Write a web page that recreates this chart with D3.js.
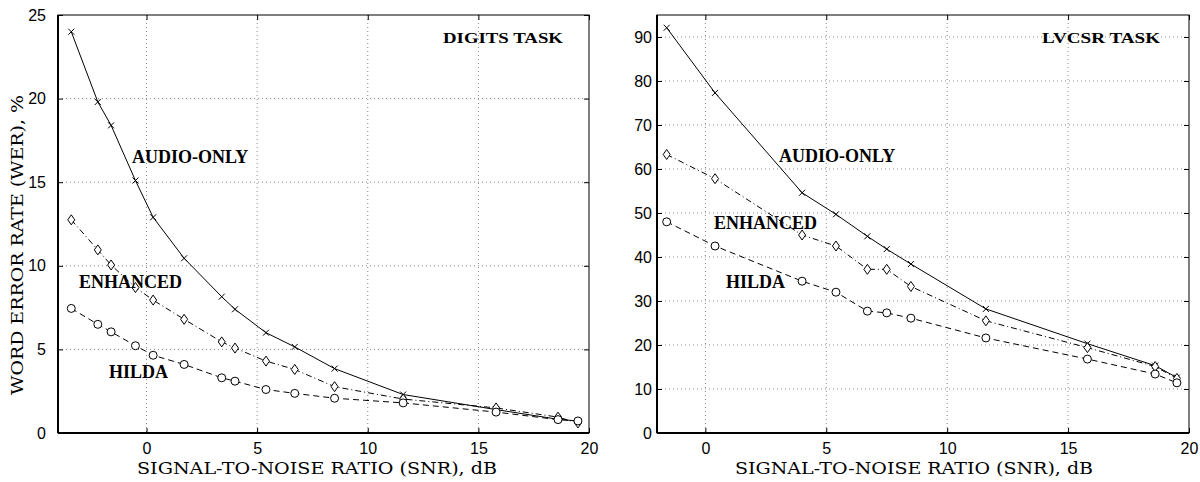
<!DOCTYPE html>
<html><head><meta charset="utf-8">
<script src="https://cdn.jsdelivr.net/npm/d3@7/dist/d3.min.js"></script>
<style>body{margin:0;background:#fff}svg{display:block}</style>
</head><body><svg id="c" width="1200" height="482"></svg>
<script>
// ---- data ----
const digitsSNR = [-3.4,-2.2,-1.6,-0.5,0.3,1.7,3.4,4.0,5.4,6.7,8.5,11.6,15.8,18.6,19.5];
const digitsAudio = [24.0,19.8,18.4,15.1,12.9,10.45,8.15,7.4,6.0,5.15,3.85,2.3,1.4,0.82,0.72];
const digitsEnhanced = [12.75,10.95,10.05,8.7,7.95,6.8,5.45,5.08,4.3,3.8,2.77,2.03,1.5,0.95,0.6];
const digitsHilda = [7.45,6.5,6.05,5.22,4.65,4.1,3.3,3.1,2.6,2.37,2.08,1.8,1.25,0.8,0.72];
const lvcsrSNR = [-1.6,0.4,4.0,5.4,6.7,7.5,8.5,11.6,15.8,18.6,19.5];
const lvcsrAudio = [92.1,77.3,54.6,49.7,44.7,41.8,38.4,28.2,20.3,15.3,12.6];
const lvcsrEnhanced = [63.3,57.8,45.0,42.5,37.2,37.2,33.3,25.5,19.4,15.1,12.4];
const lvcsrHilda = [48.0,42.5,34.5,32.0,27.7,27.3,26.1,21.6,16.8,13.4,11.4];
const digitsYTicks = [0,5,10,15,20,25];
const lvcsrYTicks = [0,10,20,30,40,50,60,70,80,90];
const xTicks = [0,5,10,15,20];
const seriesNames = ["AUDIO-ONLY","ENHANCED","HILDA"];
const xTitle = "SIGNAL-TO-NOISE RATIO (SNR), dB";
const yTitle = "WORD ERROR RATE (WER), %";

const svg = d3.select("#c");
const serif = "DejaVu Serif, Liberation Serif, serif";
const boldSerif = "Liberation Serif, Times New Roman, serif";

function panel(cfg){
  const g = svg.append("g");
  const x = d3.scaleLinear().domain(cfg.xdom).range([cfg.left, cfg.right]);
  const y = d3.scaleLinear().domain(cfg.ydom).range([cfg.bottom, cfg.top]);
  // grid
  g.selectAll(".gx").data(xTicks.filter(t=>t>cfg.xdom[0]&&t<cfg.xdom[1])).enter().append("line")
    .attr("x1",d=>x(d)).attr("x2",d=>x(d)).attr("y1",cfg.top).attr("y2",cfg.bottom)
    .attr("stroke","#888").attr("stroke-width",1).attr("stroke-dasharray","1,3");
  g.selectAll(".gy").data(cfg.yticks.filter(t=>t>cfg.ydom[0]&&t<cfg.ydom[1])).enter().append("line")
    .attr("y1",d=>y(d)).attr("y2",d=>y(d)).attr("x1",cfg.left).attr("x2",cfg.right)
    .attr("stroke","#888").attr("stroke-width",1).attr("stroke-dasharray","1,3");
  // axes (inward ticks)
  const ax = g.append("g").attr("transform",`translate(0,${cfg.bottom})`)
    .call(d3.axisBottom(x).tickValues(xTicks).tickSizeInner(-5).tickSizeOuter(0).tickPadding(10));
  const axT = g.append("g").attr("transform",`translate(0,${cfg.top})`)
    .call(d3.axisTop(x).tickValues(xTicks).tickSizeInner(-5).tickSizeOuter(0).tickFormat(""));
  const ay = g.append("g").attr("transform",`translate(${cfg.left},0)`)
    .call(d3.axisLeft(y).tickValues(cfg.yticks).tickSizeInner(-5).tickSizeOuter(0).tickPadding(cfg.ypad));
  const ayR = g.append("g").attr("transform",`translate(${cfg.right},0)`)
    .call(d3.axisRight(y).tickValues(cfg.yticks).tickSizeInner(-5).tickSizeOuter(0).tickFormat(""));
  [ax,axT,ay,ayR].forEach(a=>{
    a.select(".domain").remove();
    a.selectAll("line").attr("stroke","#000");
    a.selectAll("text").attr("font-family","Liberation Sans, Arial, sans-serif").attr("font-size",16).attr("fill","#000");
  });
  // frame
  g.append("rect").attr("x",cfg.left).attr("y",cfg.top).attr("width",cfg.right-cfg.left).attr("height",cfg.bottom-cfg.top)
    .attr("fill","none").attr("stroke","#000").attr("stroke-width",1);
  g.append("line").attr("x1",cfg.left).attr("x2",cfg.right).attr("y1",cfg.bottom).attr("y2",cfg.bottom).attr("stroke","#000").attr("stroke-width",2);
  g.append("line").attr("x1",cfg.left).attr("x2",cfg.left).attr("y1",cfg.top).attr("y2",cfg.bottom).attr("stroke","#000").attr("stroke-width",2);

  const line = d3.line().x(d=>x(d[0])).y(d=>y(d[1]));
  const dashes = ["none","6,3,1,3","6,4"];
  cfg.series.forEach((vals,i)=>{
    const pts = cfg.snr.map((s,j)=>[s,vals[j]]);
    g.append("path").datum(pts).attr("d",line).attr("fill","none").attr("stroke","#000")
      .attr("stroke-width",1).attr("stroke-dasharray",dashes[i]);
    const m = g.selectAll(".m"+i).data(pts).enter().append("g")
      .attr("transform",d=>`translate(${x(d[0])},${y(d[1])})`);
    if(i===0){
      m.append("path").attr("d","M-3,-3L3,3M-3,3L3,-3").attr("stroke","#000").attr("stroke-width",1);
    } else if(i===1){
      m.append("path").attr("d","M0,-5L3.5,0L0,5L-3.5,0Z").attr("fill","#fff").attr("stroke","#000").attr("stroke-width",1);
    } else {
      m.append("circle").attr("r",4).attr("fill","#fff").attr("stroke","#000").attr("stroke-width",1);
    }
  });
  // labels
  cfg.labels.forEach((l,i)=>{
    g.append("text").attr("x",l[0]).attr("y",l[1]).text(seriesNames[i])
      .attr("font-family",boldSerif).attr("font-weight","bold").attr("font-size",18).attr("fill","#000");
  });
  g.append("text").attr("x",cfg.task[0]).attr("y",cfg.task[1]).text(cfg.taskName)
    .attr("font-family",boldSerif).attr("font-weight","bold").attr("font-size",15)
    .attr("textLength",cfg.taskLen).attr("lengthAdjust","spacingAndGlyphs").attr("fill","#000");
  g.append("text").attr("x",cfg.xtitleX).attr("y",474).attr("text-anchor","middle").text(xTitle)
    .attr("font-family",serif).attr("font-size",16)
    .attr("textLength",cfg.xtitleLen).attr("lengthAdjust","spacingAndGlyphs").attr("fill","#000");
  return {x,y};
}

panel({xdom:[-4,20], ydom:[0,25], left:58, right:589, top:15, bottom:433, yticks:digitsYTicks, ypad:12,
  snr:digitsSNR, series:[digitsAudio,digitsEnhanced,digitsHilda],
  labels:[[132,163],[79,288],[109,378]], task:[443,43], taskName:"DIGITS TASK", taskLen:120,
  xtitleX:317, xtitleLen:360});
panel({xdom:[-2,20], ydom:[0,95], left:657, right:1189, top:15, bottom:433, yticks:lvcsrYTicks, ypad:5,
  snr:lvcsrSNR, series:[lvcsrAudio,lvcsrEnhanced,lvcsrHilda],
  labels:[[779,162],[714,229],[726,288]], task:[1042,43], taskName:"LVCSR TASK", taskLen:118,
  xtitleX:914, xtitleLen:358});

svg.append("text").attr("transform","translate(23,245) rotate(-90)").attr("text-anchor","middle").text(yTitle)
  .attr("font-family",serif).attr("font-size",16)
  .attr("textLength",300).attr("lengthAdjust","spacingAndGlyphs").attr("fill","#000");
</script></body></html>
